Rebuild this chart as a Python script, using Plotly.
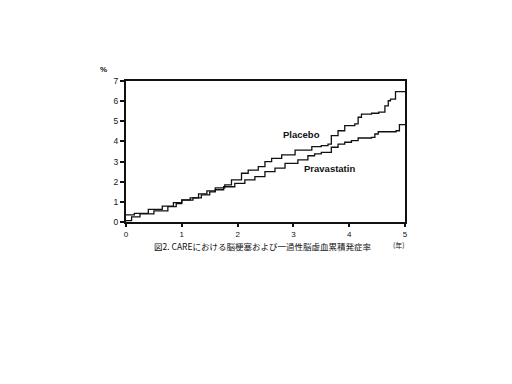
import plotly.graph_objects as go

# Step-curve data (years, cumulative incidence %)
placebo_t = [0, 0.10, 0.25, 0.50, 0.75, 0.90, 1.00, 1.15, 1.30, 1.45, 1.60, 1.77, 1.89, 2.07, 2.19, 2.37,
             2.49, 2.61, 2.79, 3.03, 3.33, 3.50, 3.62, 3.68, 3.80, 3.92, 4.10, 4.16, 4.22, 4.40, 4.53,
             4.64, 4.70, 4.74, 4.83, 5.00]
placebo_v = [0.07, 0.25, 0.40, 0.55, 0.76, 0.91, 1.10, 1.20, 1.40, 1.55, 1.69, 1.84, 2.09, 2.42, 2.58, 2.75,
             3.00, 3.16, 3.33, 3.57, 3.74, 3.79, 3.87, 4.29, 4.53, 4.78, 4.87, 5.20, 5.36, 5.40, 5.45,
             5.77, 6.02, 6.10, 6.47, 6.47]

prava_t = [0, 0.15, 0.40, 0.65, 0.85, 1.00, 1.20, 1.35, 1.50, 1.60, 1.75, 1.95, 2.13, 2.31, 2.49, 2.67,
           2.85, 3.08, 3.26, 3.38, 3.50, 3.68, 3.80, 3.92, 4.04, 4.16, 4.40, 4.46, 4.52, 4.84, 4.90, 5.00]
prava_v = [0.35, 0.43, 0.63, 0.79, 0.96, 1.09, 1.20, 1.35, 1.50, 1.60, 1.75, 1.92, 2.09, 2.25, 2.50, 2.67,
           2.91, 3.08, 3.29, 3.38, 3.46, 3.71, 3.87, 3.96, 4.04, 4.17, 4.20, 4.37, 4.48, 4.53, 4.83, 4.83]

x_ticks = [0, 1, 2, 3, 4, 5]
y_ticks = [0, 1, 2, 3, 4, 5, 6, 7]
caption = "図2. CAREにおける脳梗塞および一過性脳虚血累積発症率"

FONT = "Liberation Sans, Arial, Noto Sans CJK JP, sans-serif"
CJK = "Noto Sans CJK JP, sans-serif"

fig = go.Figure()
fig.add_trace(go.Scatter(x=placebo_t, y=placebo_v, mode="lines", line=dict(shape="hv", color="#111", width=1.3),
                         name="Placebo", showlegend=False))
fig.add_trace(go.Scatter(x=prava_t, y=prava_v, mode="lines", line=dict(shape="hv", color="#111", width=1.3),
                         name="Pravastatin", showlegend=False))

fig.add_annotation(x=3.14, y=4.32, text="<b>Placebo</b>", showarrow=False,
                   font=dict(family=FONT, size=9.5, color="#111"))
fig.add_annotation(x=3.64, y=2.68, text="<b>Pravastatin</b>", showarrow=False,
                   font=dict(family=FONT, size=9.5, color="#111"))

fig.add_annotation(xref="paper", yref="paper", x=0.49, y=-0.172, xanchor="center", yanchor="middle",
                   text=caption, showarrow=False,
                   font=dict(family=CJK, size=8.5, color="#111"))
fig.add_annotation(xref="paper", yref="paper", x=0.978, y=-0.165, xanchor="center", yanchor="middle",
                   text="(年)", showarrow=False,
                   font=dict(family=CJK, size=7, color="#111"))
fig.add_annotation(xref="paper", yref="paper", x=-0.079, y=1.085, xanchor="center", yanchor="middle",
                   text="<b>%</b>", showarrow=False,
                   font=dict(family=FONT, size=8, color="#111"))

fig.update_xaxes(range=[0, 5], tickvals=x_ticks, ticks="outside", ticklen=3, tickwidth=1.5, tickcolor="#111",
                 showline=True, linewidth=2, linecolor="#111", mirror=True, showgrid=False, zeroline=False,
                 tickfont=dict(family=FONT, size=8, color="#111"))
fig.update_yaxes(range=[0, 7], tickvals=y_ticks, ticks="outside", ticklen=4, tickwidth=1.5, tickcolor="#111",
                 showline=True, linewidth=2, linecolor="#111", mirror=True, showgrid=False, zeroline=False,
                 tickfont=dict(family=FONT, size=8.5, color="#111"))

fig.update_layout(width=512, height=384, autosize=False,
                  margin=dict(l=126, r=107, t=81, b=162),
                  paper_bgcolor="white", plot_bgcolor="white")

fig.write_html("out.html")
